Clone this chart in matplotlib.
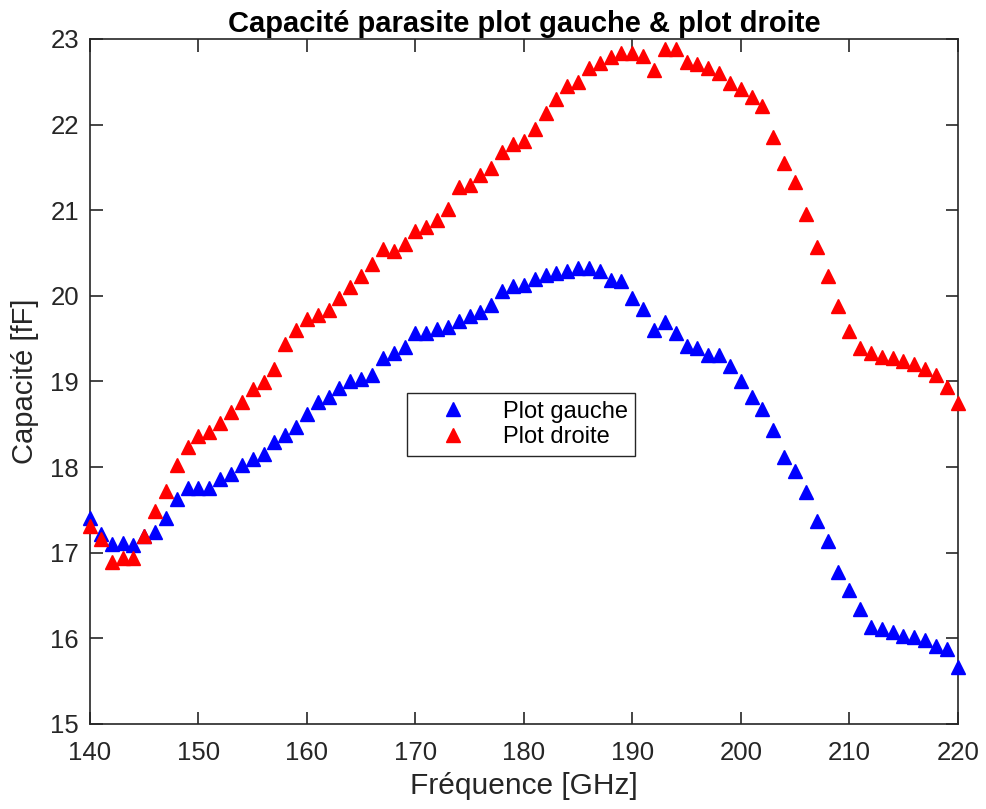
# Capacité parasite: plot gauche vs plot droite (140-220 GHz)
import numpy as np
import matplotlib.pyplot as plt

plt.rcParams['font.family'] = ['Liberation Sans', 'DejaVu Sans']

freq = np.arange(140, 221)

plot_gauche = [
    17.41, 17.22, 17.10, 17.11, 17.09, 17.20, 17.24, 17.41, 17.63, 17.76,
    17.76, 17.76, 17.86, 17.92, 18.02, 18.10, 18.15, 18.29, 18.37, 18.47,
    18.62, 18.76, 18.82, 18.92, 19.01, 19.03, 19.07, 19.28, 19.33, 19.40,
    19.57, 19.57, 19.61, 19.64, 19.71, 19.76, 19.81, 19.89, 20.06, 20.12,
    20.13, 20.20, 20.24, 20.27, 20.29, 20.32, 20.32, 20.29, 20.19, 20.17,
    19.98, 19.85, 19.60, 19.70, 19.57, 19.42, 19.39, 19.31, 19.31, 19.18,
    19.01, 18.82, 18.68, 18.43, 18.12, 17.96, 17.71, 17.37, 17.14, 16.78,
    16.57, 16.34, 16.13, 16.11, 16.07, 16.03, 16.02, 15.98, 15.91, 15.87,
    15.66,
]

plot_droite = [
    17.31, 17.16, 16.89, 16.94, 16.94, 17.20, 17.49, 17.72, 18.02, 18.24,
    18.36, 18.41, 18.52, 18.64, 18.76, 18.91, 18.99, 19.15, 19.44, 19.60,
    19.73, 19.78, 19.83, 19.97, 20.10, 20.23, 20.37, 20.55, 20.52, 20.61,
    20.76, 20.81, 20.89, 21.02, 21.27, 21.29, 21.41, 21.49, 21.68, 21.77,
    21.81, 21.95, 22.14, 22.30, 22.45, 22.50, 22.66, 22.72, 22.79, 22.84,
    22.84, 22.80, 22.64, 22.88, 22.88, 22.73, 22.71, 22.66, 22.60, 22.49,
    22.42, 22.32, 22.22, 21.85, 21.55, 21.33, 20.96, 20.57, 20.23, 19.88,
    19.59, 19.39, 19.33, 19.29, 19.27, 19.24, 19.20, 19.15, 19.07, 18.93,
    18.75,
]

x_ticks = [140, 150, 160, 170, 180, 190, 200, 210, 220]
y_ticks = [15, 16, 17, 18, 19, 20, 21, 22, 23]

dark = '#262626'

fig = plt.figure(figsize=(9.86, 8.09), dpi=100)
ax = fig.add_axes([0.0913, 0.1051, 0.8800, 0.8467])

ax.plot(freq, plot_gauche, '^', color='#0000ff', ms=10, mec='#0000ff',
        label='Plot gauche', clip_on=False, zorder=3)
ax.plot(freq, plot_droite, '^', color='#ff0000', ms=10, mec='#ff0000',
        label='Plot droite', clip_on=False, zorder=3)

ax.set_xlim(140, 220)
ax.set_ylim(15, 23)
ax.set_xticks(x_ticks)
ax.set_yticks(y_ticks)
ax.tick_params(direction='in', length=9, width=1.2, colors=dark, labelsize=18.5,
               top=True, right=True)
ax.tick_params(axis='x', pad=12)
ax.tick_params(axis='y', pad=8)
for s in ax.spines.values():
    s.set_color(dark)
    s.set_linewidth(1.2)

ax.set_xlabel('Fréquence [GHz]', fontsize=21.5, color=dark, labelpad=5)
ax.set_ylabel('Capacité [fF]', fontsize=21, color=dark, labelpad=8)
ax.set_title('Capacité parasite plot gauche & plot droite', fontsize=21,
             fontweight='bold', pad=5)

leg = ax.legend(loc='upper left', bbox_to_anchor=(0.365, 0.483), borderaxespad=0,
                fontsize=17, fancybox=False, framealpha=1, edgecolor=dark,
                handlelength=3.3, handletextpad=0.45, borderpad=0.32,
                labelspacing=0.15, markerscale=1.0)
leg.get_frame().set_linewidth(1.0)

fig.savefig('out.png', dpi=100)
